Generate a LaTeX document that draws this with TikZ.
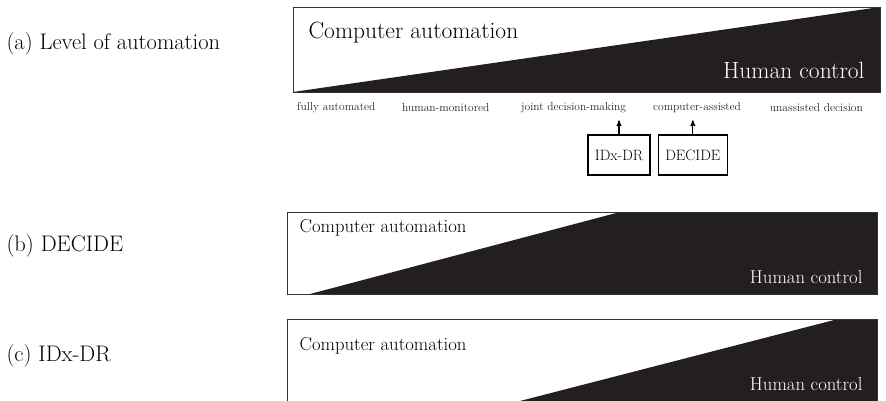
\documentclass[tikz,border=0pt]{standalone}
\usepackage{tikz}
\usetikzlibrary{arrows}
\usetikzlibrary{calc,positioning}
\definecolor{ink}{HTML}{231F20}

\begin{document}
\begin{tikzpicture}[x=1pt,y=-1pt,>=stealth',
  panel/.style={draw=black!80, line width=0.9pt},
  share/.style={fill=ink},
  tag/.style={anchor=west, font=\fontsize{22.5}{26}\selectfont},
  bigtxt/.style={font=\fontsize{23.5}{27}\selectfont},
  smalltxt/.style={font=\fontsize{18.7}{22}\selectfont},
  level/.style={anchor=west, inner sep=0pt, text=black!85, font=\fontsize{11.5}{13}\selectfont},
  sysbox/.style={draw, line width=1.3pt, minimum height=40pt, inner xsep=7pt, font=\fontsize{15}{17}\selectfont}]
\useasboundingbox (0,0) rectangle (886,400);

% (a) level of automation
\node[tag] (taga) at (3,44) {(a) Level of automation};
\fill[share] (293,92) -- (880,7) -- (880,92) -- cycle;
\draw[panel] (293,7) rectangle (880,92);
\node[bigtxt, anchor=west] (compa) at (305,33) {Computer automation};
\node[bigtxt, anchor=east, text=white] (huma) at (868,70) {Human control};

\node[level] (fully) at (297,108) {fully automated};
\node[level] (monit) at (402,108) {human-monitored};
\node[level] (joint) at (521,108) {joint decision-making};
\node[level] (assist) at (653,108) {computer-assisted};
\node[level, anchor=east] (unass) at (863,108) {unassisted decision};

\node[sysbox] (idx) at (619,155) {IDx-DR};
\node[sysbox, right=7pt of idx] (decide) {DECIDE};
\coordinate (idxtip) at ($(idx.north)+(0,-14)$);
\coordinate (dectip) at ($(decide.north)+(0,-14)$);
\draw[->, line width=1.1pt] (idx.north) -- (idxtip);
\draw[->, line width=1.1pt] (decide.north) -- (dectip);

% (b) DECIDE
\node[tag] (tagb) at (3,246) {(b) DECIDE};
\fill[share] (310,294) -- (620,212) -- (877,212) -- (877,294) -- cycle;
\draw[panel] (287,212) rectangle (877,294);
\node[smalltxt, anchor=west] (compb) at (296,228) {Computer automation};
\node[smalltxt, anchor=east, text=white] (humb) at (866,277) {Human control};

% (c) IDx-DR
\node[tag] (tagc) at (3,356) {(c) IDx-DR};
\fill[share] (520,401) -- (838,319) -- (877,319) -- (877,401) -- cycle;
\draw[panel] (287,401) -- (287,319) -- (877,319) -- (877,401);
\node[smalltxt, anchor=west] (compc) at (296,346) {Computer automation};
\node[smalltxt, anchor=east, text=white] (humc) at (866,384) {Human control};
\end{tikzpicture}
\end{document}
